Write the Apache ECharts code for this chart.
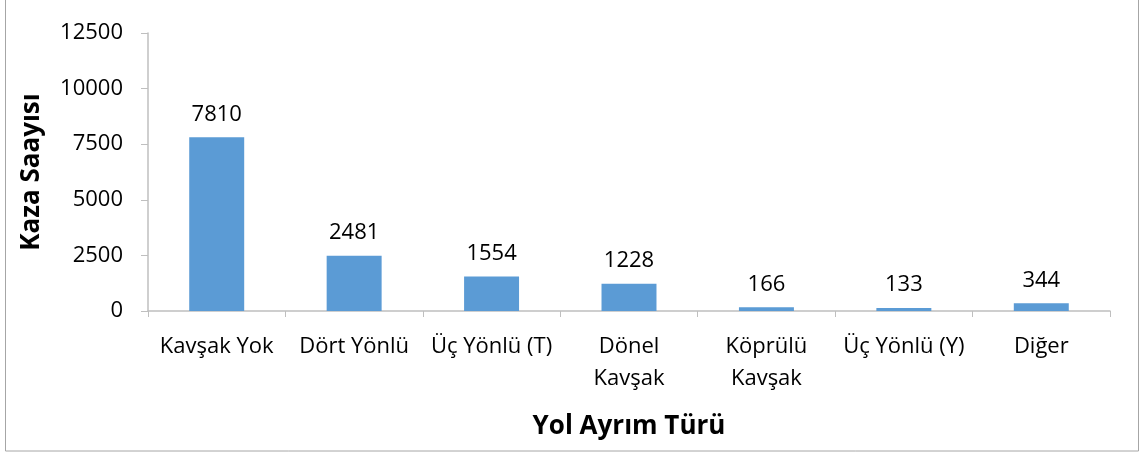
<!DOCTYPE html>
<html>
<head>
<meta charset="utf-8">
<script src="https://cdn.jsdelivr.net/npm/echarts@6/dist/echarts.min.js"></script>
<style>
  html, body { margin: 0; padding: 0; background: #fff; }
</style>
</head>
<body>
<div id="myEcharts" style="width:1144px;height:454px;"></div>
<script>
// veriler
const categories = ['Kavşak Yok', 'Dört Yönlü', 'Üç Yönlü (T)', 'Dönel\nKavşak', 'Köprülü\nKavşak', 'Üç Yönlü (Y)', 'Diğer'];
const kazaSayisi = [7810, 2481, 1554, 1228, 166, 133, 344];
const yTicks = [0, 2500, 5000, 7500, 10000, 12500];

const font = '"Open Sans", sans-serif';

const chart = echarts.init(document.getElementById('myEcharts'));
chart.setOption({
    animation: false,
    grid: { left: 148, right: 34, top: 33, bottom: 143 },
    graphic: [{
        type: 'rect',
        shape: { x: 5.5, y: -5, width: 1133, height: 456 },
        style: { fill: 'none', stroke: '#a6a6a6', lineWidth: 1 },
        silent: true
    }],
    xAxis: {
        type: 'category',
        data: categories,
        name: 'Yol Ayrım Türü',
        nameLocation: 'middle',
        nameGap: 103,
        nameTextStyle: { fontFamily: font, fontSize: 26, fontWeight: 'bold', color: '#000' },
        axisLine: { lineStyle: { color: '#bfbfbf', width: 1.5 } },
        axisTick: { show: true, length: 6, lineStyle: { color: '#bfbfbf' } },
        axisLabel: {
            interval: 0, margin: 20, color: '#000',
            fontFamily: font, fontSize: 22, lineHeight: 32
        }
    },
    yAxis: {
        type: 'value',
        min: yTicks[0],
        max: yTicks[yTicks.length - 1],
        interval: yTicks[1] - yTicks[0],
        name: 'Kaza Saayısı',
        nameLocation: 'middle',
        nameGap: 103,
        nameRotate: 90,
        nameTextStyle: { fontFamily: font, fontSize: 26, fontWeight: 'bold', color: '#000' },
        splitLine: { show: false },
        axisLine: { show: true, lineStyle: { color: '#bfbfbf', width: 1.5 } },
        axisTick: { show: true, length: 7, lineStyle: { color: '#bfbfbf' } },
        axisLabel: {
            margin: 25, color: '#000', fontFamily: font, fontSize: 22,
            formatter: (v) => String(v)
        }
    },
    series: [{
        type: 'bar',
        data: kazaSayisi,
        barWidth: '40%',
        itemStyle: { color: '#5b9bd5' },
        label: {
            show: true, position: 'top', distance: 12,
            color: '#000', fontFamily: font, fontSize: 22
        }
    }]
});
</script>
</body>
</html>
